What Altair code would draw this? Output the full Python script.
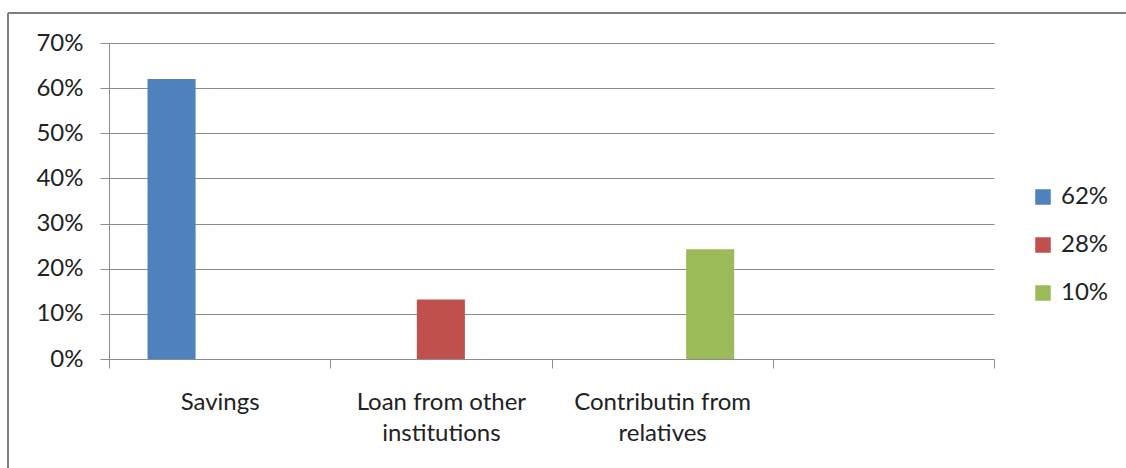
import altair as alt
import pandas as pd

# Funding sources (the fourth slot on the category axis is left empty)
categories = ["Savings", "Loan from other institutions", "Contributin from relatives", " "]
series = ["62%", "28%", "10%"]
bar_category = ["Savings", "Loan from other institutions", "Contributin from relatives"]
shares = [0.62, 0.132, 0.243]
colors = ["#4F81BD", "#C0504D", "#9BBB59"]
y_ticks = [0.0, 0.1, 0.2, 0.3, 0.4, 0.5, 0.6, 0.7]
wrapped = {
    "Loan from other institutions": ["Loan from other", "institutions"],
    "Contributin from relatives": ["Contributin from", "relatives"],
}

df = pd.DataFrame({"category": bar_category, "series": series, "share": shares})

FONT = "Lato"
FS = 24
AXIS_GRAY = "#8c8c8c"
TEXT = "#222222"

W, H = 885, 316
PAD_L, PAD_T = 109, 43

# two-line category labels
label_expr = ""
for name, lines in wrapped.items():
    parts = ",".join("'" + s + "'" for s in lines)
    label_expr += f"datum.value == '{name}' ? [{parts}] : "
label_expr += "datum.label"

bars = alt.Chart(df).mark_bar().encode(
    x=alt.X(
        "category:N",
        sort=categories,
        scale=alt.Scale(domain=categories, paddingInner=0, paddingOuter=0),
        axis=alt.Axis(
            title=None,
            labelAngle=0,
            tickBand="extent",
            ticks=True,
            tickSize=9,
            tickColor=AXIS_GRAY,
            domainColor=AXIS_GRAY,
            labelPadding=22,
            labelFont=FONT,
            labelFontSize=FS,
            labelColor=TEXT,
            labelLineHeight=31,
            labelExpr=label_expr,
            grid=False,
        ),
    ),
    xOffset=alt.XOffset(
        "series:N",
        sort=series,
        scale=alt.Scale(domain=series, paddingInner=0, paddingOuter=0.802),
    ),
    y=alt.Y(
        "share:Q",
        scale=alt.Scale(domain=[0, 0.7], nice=False),
        axis=alt.Axis(
            title=None,
            values=y_ticks,
            format=".0%",
            grid=True,
            gridColor=AXIS_GRAY,
            tickSize=9,
            tickColor=AXIS_GRAY,
            domainColor=AXIS_GRAY,
            labelPadding=17,
            labelFont=FONT,
            labelFontSize=FS,
            labelColor=TEXT,
        ),
    ),
    color=alt.Color(
        "series:N",
        sort=series,
        scale=alt.Scale(domain=series, range=colors),
        legend=alt.Legend(
            title=None,
            orient="none",
            legendX=922,
            legendY=142,
            symbolType="square",
            symbolSize=240,
            symbolStrokeWidth=0,
            labelFont=FONT,
            labelFontSize=FS,
            labelColor=TEXT,
            labelOffset=6,
            rowPadding=24,
        ),
    ),
)

one = pd.DataFrame({"k": [0]})
# chart frame (top and left edges) around the whole figure
frame_top = alt.Chart(one).mark_rule(color="#7f7f7f", strokeWidth=2).encode(
    x=alt.value(8 - PAD_L), x2=alt.value(1140 - PAD_L), y=alt.value(13 - PAD_T)
)
frame_left = alt.Chart(one).mark_rule(color="#7f7f7f", strokeWidth=2).encode(
    x=alt.value(8 - PAD_L), y=alt.value(13 - PAD_T), y2=alt.value(480 - PAD_T)
)

chart = alt.layer(bars, frame_top, frame_left).properties(
    width=W,
    height=H,
    autosize=alt.AutoSizeParams(type="none"),
    padding={"left": PAD_L, "top": PAD_T, "right": 1126 - PAD_L - W, "bottom": 468 - PAD_T - H},
    background="white",
).configure_view(stroke="transparent")

chart.save("out.html", embed_options={"renderer": "svg", "actions": False})
